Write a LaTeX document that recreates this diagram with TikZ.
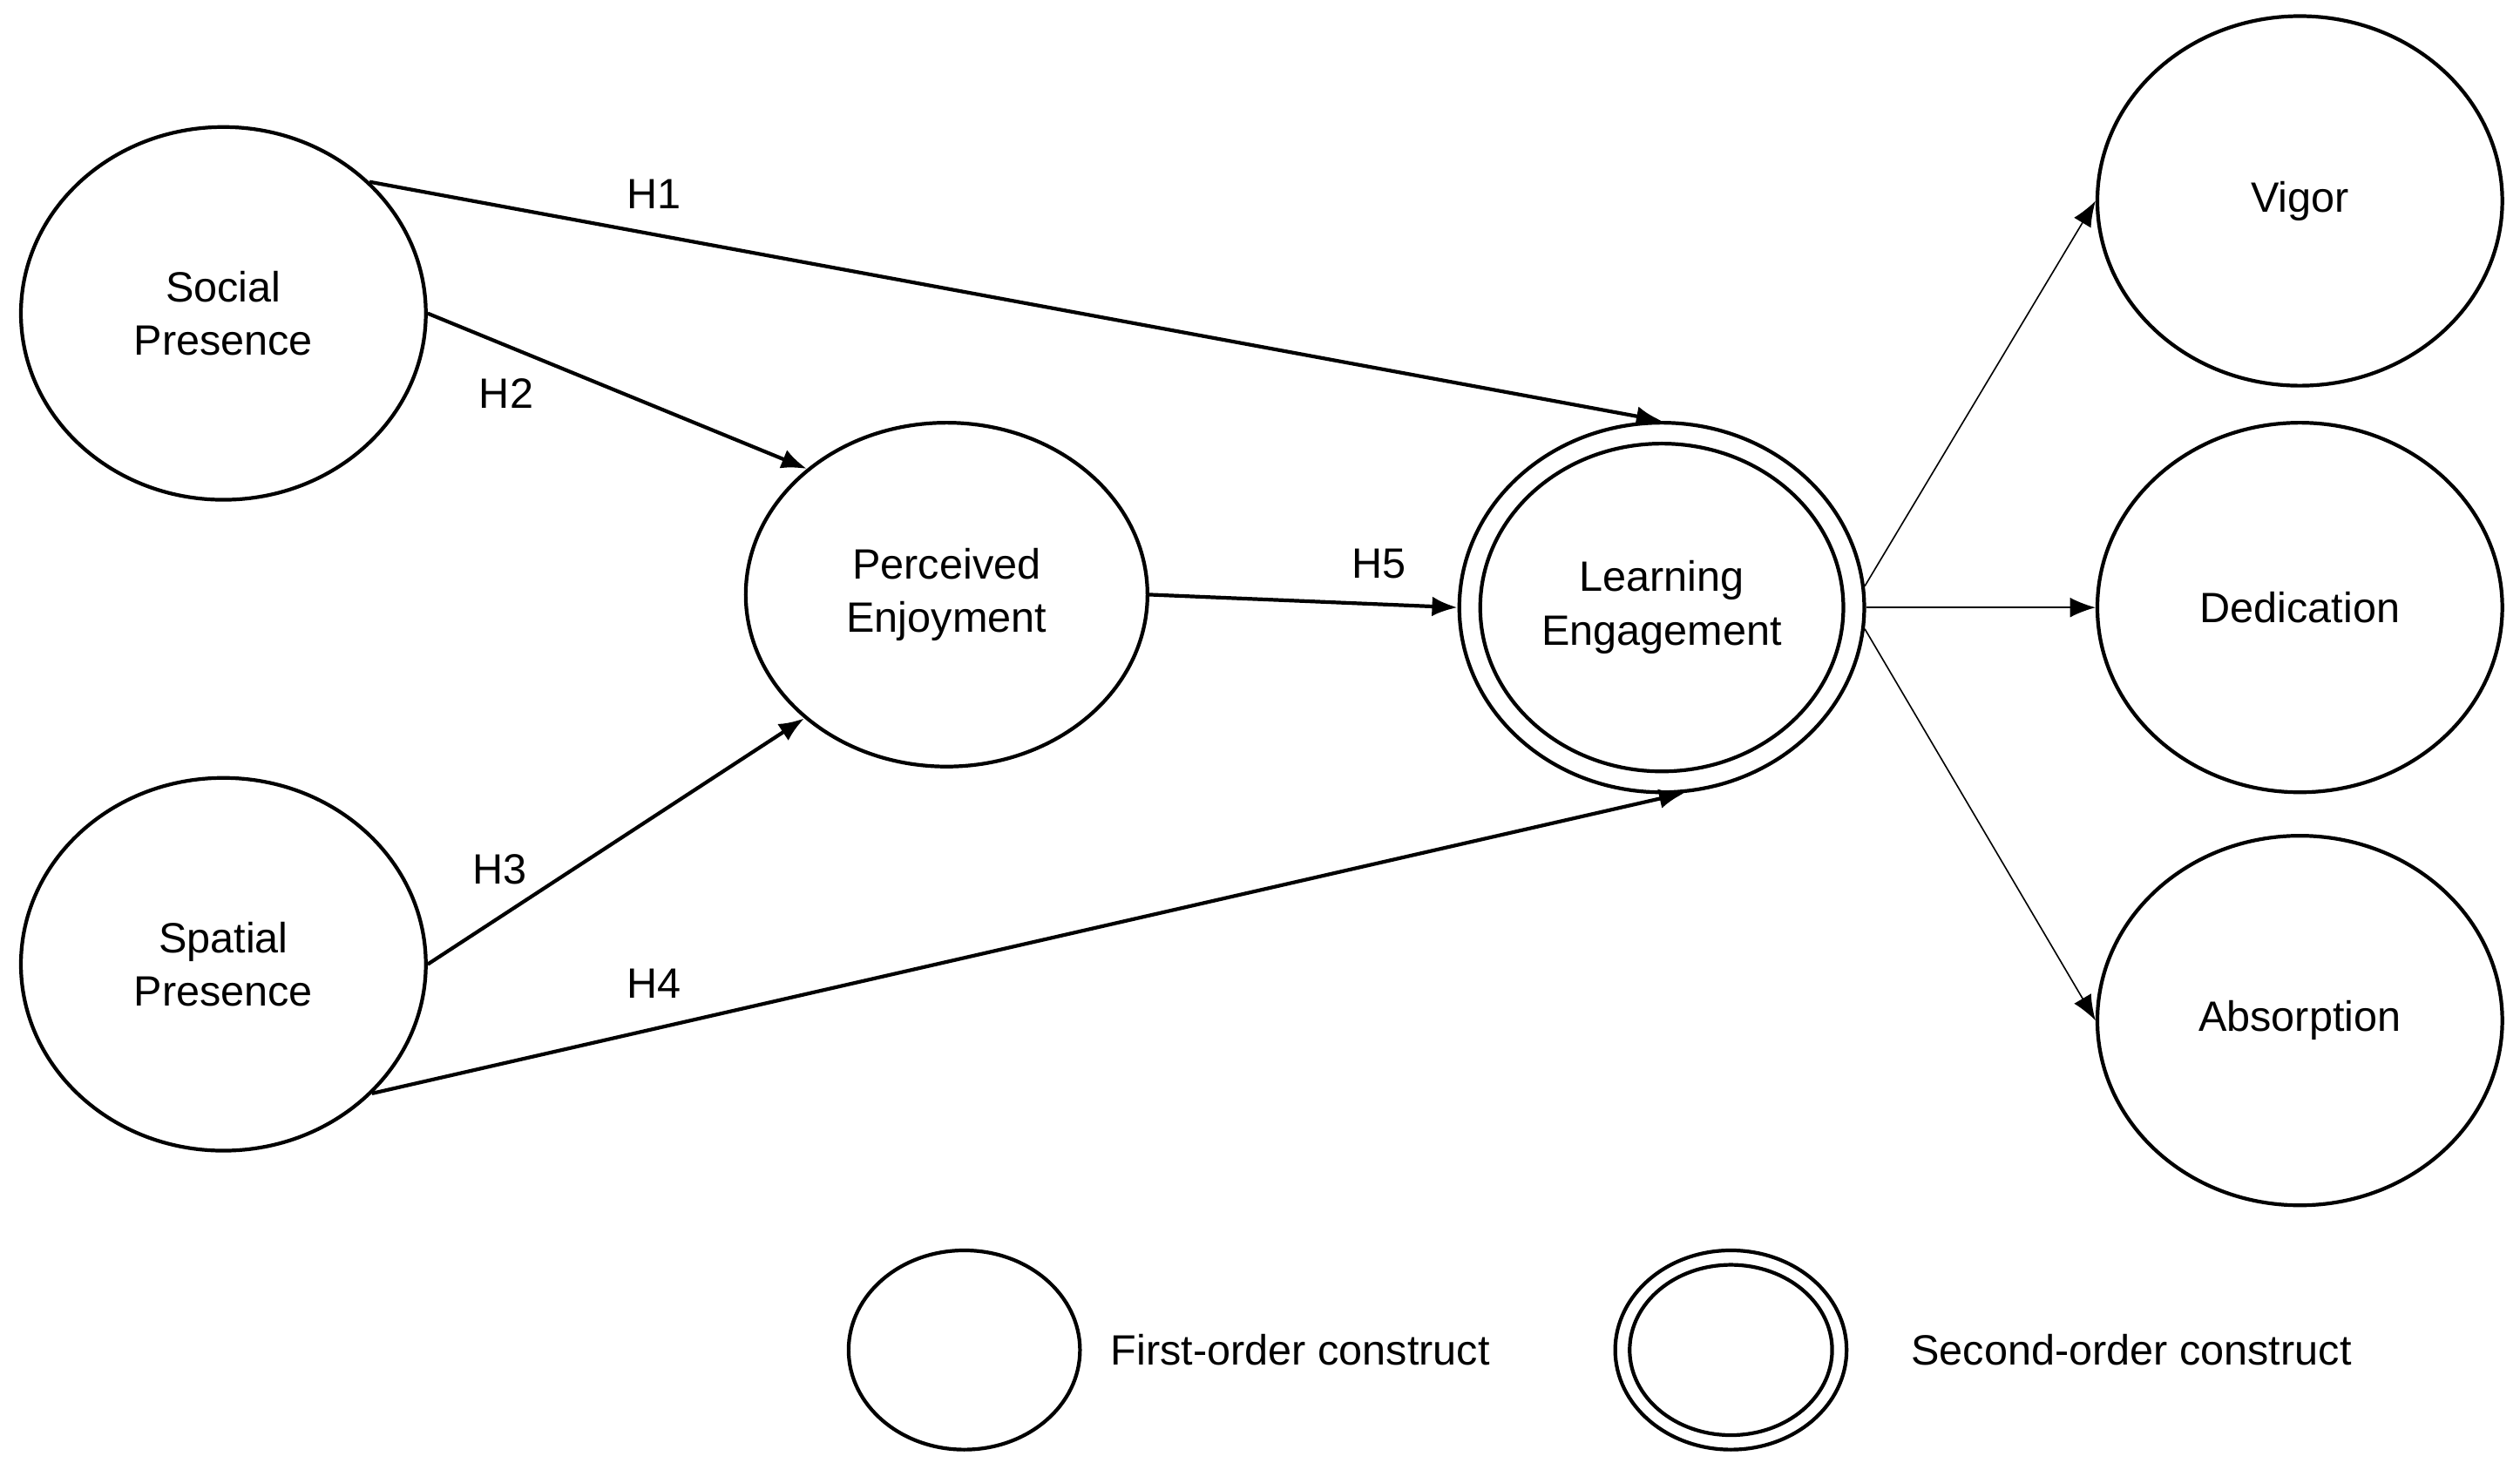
\documentclass[tikz,border=0pt]{standalone}
\usepackage{fontspec}
\setmainfont{Liberation Sans}
\usetikzlibrary{arrows.meta}
\usetikzlibrary{shapes.geometric}
\tikzset{
	construct/.style={ellipse, draw, line width=1.3pt, align=center, inner sep=0pt, minimum width=5.04cm, minimum height=4.64cm},
	path/.style={-{Latex[length=9pt,width=7pt]}, line width=1.3pt},
	thinpath/.style={-{Latex[length=9pt,width=7pt]}, line width=0.5pt},
	hyp/.style={inner sep=0pt}
}

\begin{document}
\begin{tikzpicture}[x=0.02cm, y=-0.02cm, font=\fontsize{15}{19}\selectfont]
	\useasboundingbox (0,0) rectangle (1568,910);

	\node[construct] (SocP) at (139,195) {Social\\Presence};
	\node[construct] (SpaP) at (139,600) {Spatial\\Presence};
	\node[construct, minimum width=5cm, minimum height=4.28cm] (PerE) at (589,370) {Perceived\\Enjoyment};
	\node[construct, minimum width=5.04cm, minimum height=4.6cm] (LeaE) at (1034,378) {};
	\node[construct, minimum width=4.52cm, minimum height=4.08cm] (LeaEin) at (1034,378) {Learning\\Engagement};
	\node[construct, minimum height=4.6cm] (Vig) at (1431,125) {Vigor};
	\node[construct, minimum height=4.6cm] (Ded) at (1431,378) {Dedication};
	\node[construct, minimum height=4.6cm] (Abs) at (1431,635) {Absorption};

	% legend
	\node[construct, minimum width=2.88cm, minimum height=2.48cm] (Lg1) at (600,840) {};
	\node[anchor=west] (Lg1t) at (685,840) {First-order construct};
	\node[construct, minimum width=2.88cm, minimum height=2.48cm] (Lg2) at (1077,840) {};
	\node[construct, minimum width=2.52cm, minimum height=2.12cm] (Lg2in) at (1077,840) {};
	\node[anchor=west] (Lg2t) at (1183,840) {Second-order construct};

	\draw[path] (SocP.42) -- (LeaE.90);
	\draw[path] (SocP.east) -- (PerE.138);
	\draw[path] (SpaP.east) -- (PerE.221);
	\draw[path] (SpaP.-41) -- (LeaE.-83);
	\draw[path] (PerE.east) -- (LeaE.west);
	\draw[thinpath] (LeaE.6) -- (Vig.west);
	\draw[thinpath] (LeaE.east) -- (Ded.west);
	\draw[thinpath] (LeaE.-6) -- (Abs.west);

	\node[hyp] (H1) at (407,121) {H1};
	\node[hyp] (H2) at (315,245) {H2};
	\node[hyp] (H3) at (311,541) {H3};
	\node[hyp] (H4) at (407,612) {H4};
	\node[hyp] (H5) at (858,351) {H5};
\end{tikzpicture}
\end{document}
